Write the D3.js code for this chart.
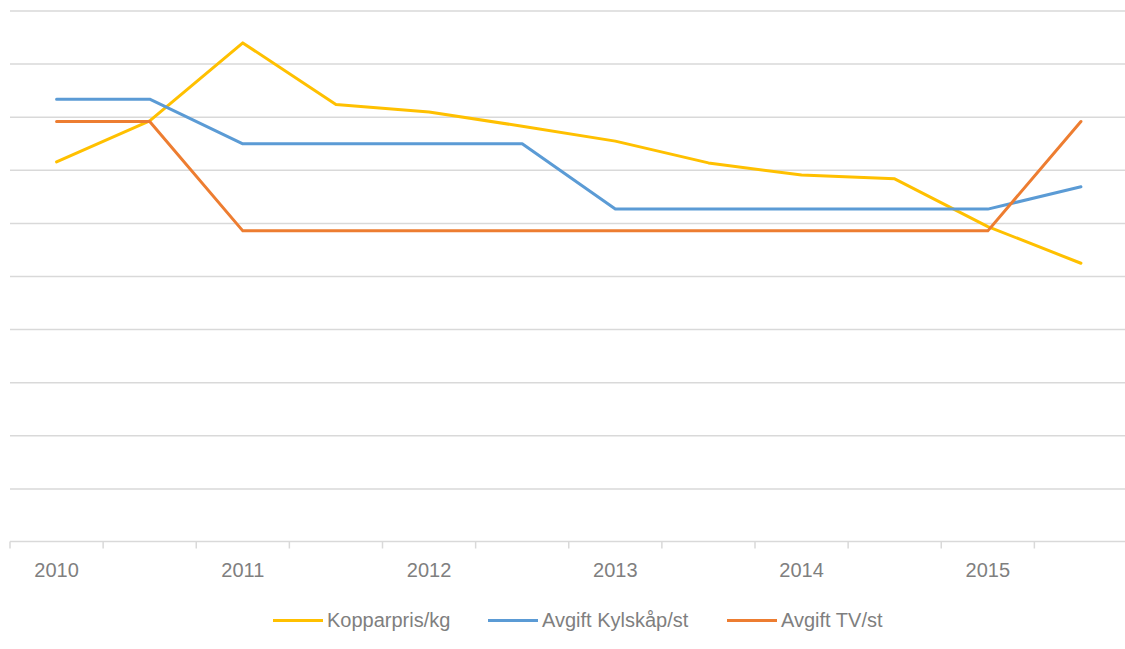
<!DOCTYPE html>
<html>
<head>
<meta charset="utf-8">
<script src="https://cdn.jsdelivr.net/npm/d3@7"></script>
<style>
  body { margin: 0; background: #fff; }
  svg { display: block; font-family: "Liberation Sans", Arial, sans-serif; }
</style>
</head>
<body>
<div id="container"></div>
<script>
// half-year periods, 2010 to 2015
const categories = ['2010a', '2010b', '2011a', '2011b', '2012a', '2012b', '2013a', '2013b', '2014a', '2014b', '2015a', '2015b'];
const tickLabels = ['2010', '', '2011', '', '2012', '', '2013', '', '2014', '', '2015', ''];

const kopparpris = [71.5, 79.2, 93.9, 82.3, 80.9, 78.2, 75.4, 71.3, 69.0, 68.3, 59.3, 52.4];
const avgiftKylskap = [83.3, 83.3, 74.9, 74.9, 74.9, 74.9, 62.6, 62.6, 62.6, 62.6, 62.6, 66.8];
const avgiftTV = [79.1, 79.1, 58.5, 58.5, 58.5, 58.5, 58.5, 58.5, 58.5, 58.5, 58.5, 79.1];

const seriesNames = ['Kopparpris/kg', 'Avgift Kylskåp/st', 'Avgift TV/st'];
const colorMap = ['#FFC000', '#5B9BD5', '#ED7D31'];

const task = () => {
    const series = [kopparpris, avgiftKylskap, avgiftTV];

    const svg = d3.select('#container')
                    .append('svg')
                        .attr('width', 1125)
                        .attr('height', 649);

    const xScale = d3.scaleBand().domain(categories).range([10, 1127.5]);
    const yScale = d3.scaleLinear().domain([0, 100]).range([541.5, 10.5]);

    // gridlines
    svg.append('g')
        .attr('class', 'grid')
        .attr('transform', 'translate(' + 10 + ',0)')
        .call(d3.axisLeft(yScale).tickValues(d3.range(10, 101, 10)).tickSize(-1117.5).tickFormat(''))
        .call(g => g.select('.domain').remove())
        .call(g => g.selectAll('line').attr('stroke', '#d9d9d9').attr('stroke-width', 1.5));

    // x axis line and boundary ticks
    const axisG = svg.append('g').attr('class', 'xaxis');
    axisG.append('line')
        .attr('x1', xScale.range()[0]).attr('x2', xScale.range()[1])
        .attr('y1', yScale(0)).attr('y2', yScale(0))
        .attr('stroke', '#d9d9d9').attr('stroke-width', 1.5);
    axisG.selectAll('.tick-mark')
        .data(categories.concat(['end']))
        .enter()
        .append('line')
            .attr('class', 'tick-mark')
            .attr('x1', (d) => d === 'end' ? xScale.range()[1] : xScale(d))
            .attr('x2', (d) => d === 'end' ? xScale.range()[1] : xScale(d))
            .attr('y1', yScale(0))
            .attr('y2', yScale(0) + 7)
            .attr('stroke', '#d9d9d9').attr('stroke-width', 1.5);

    // x labels
    svg.append('g')
        .attr('transform', 'translate(0,' + yScale(0) + ')')
        .call(d3.axisBottom(xScale).tickSize(0).tickPadding(21).tickFormat((d, i) => tickLabels[i]))
        .call(g => g.select('.domain').remove())
        .call(g => g.selectAll('text')
            .attr('fill', '#7f7f7f')
            .style('font-size', '20px')
            .style('font-family', '"Liberation Sans", Arial, sans-serif'));

    // lines
    const line = d3.line()
        .x((d, i) => xScale(categories[i]) + xScale.bandwidth() / 2)
        .y((d) => yScale(d));

    series.forEach((s, k) => {
        svg.append('path')
            .datum(s)
            .attr('fill', 'none')
            .attr('stroke', colorMap[k])
            .attr('stroke-width', 3)
            .attr('stroke-linejoin', 'round')
            .attr('stroke-linecap', 'round')
            .attr('d', line);
    });

    // legend
    const legendX = [273, 488, 727];
    const legend = svg.append('g').attr('class', 'legend');
    seriesNames.forEach((name, k) => {
        legend.append('line')
            .attr('x1', legendX[k]).attr('x2', legendX[k] + 50)
            .attr('y1', 620.5).attr('y2', 620.5)
            .attr('stroke', colorMap[k])
            .attr('stroke-width', 3);
        legend.append('text')
            .attr('x', legendX[k] + 54)
            .attr('y', 627)
            .attr('fill', '#7f7f7f')
            .style('font-size', '20px')
            .text(name);
    });
}

task();
</script>
</body>
</html>
